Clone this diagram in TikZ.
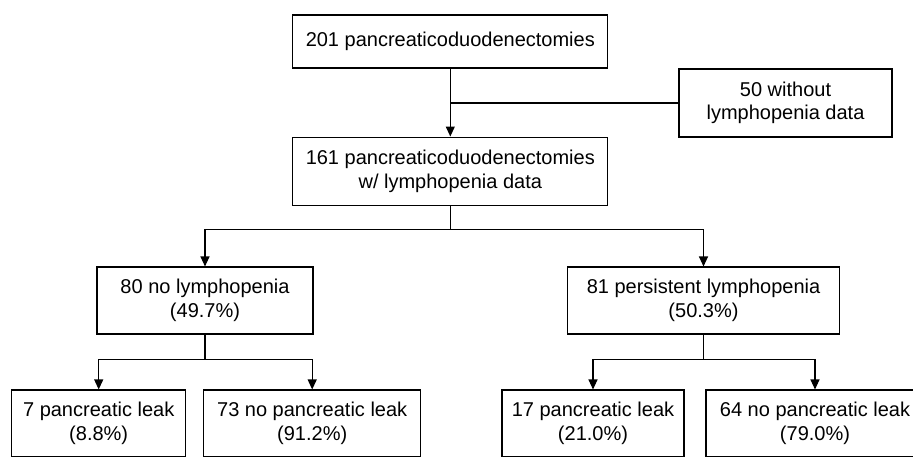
\documentclass[tikz,border=0pt]{standalone}
\usepackage{fontspec}
\setmainfont{Liberation Sans}
\usetikzlibrary{arrows.meta}
\begin{document}
\begin{tikzpicture}[x=1pt,y=-1pt,
  box/.style={draw, line width=1.1pt, inner sep=0pt, align=center,
    font=\fontsize{20}{23.5}\selectfont, minimum height=67pt},
  conn/.style={line width=1.1pt},
  arr/.style={conn,-{Triangle[length=10pt,width=9pt]}}]
\useasboundingbox (0,0) rectangle (913,456);
\clip (0,0) rectangle (913,456);
\node[box, minimum width=315pt, minimum height=53pt] (top) at (450.3,41.5) {201 pancreaticoduodenectomies};
\node[box, minimum width=315pt, minimum height=68.5pt] (n161) at (450.3,171.3) {161 pancreaticoduodenectomies\\w/ lymphopenia data};
\node[box, minimum width=213pt, minimum height=68pt] (n50) at (785.5,103) {50 without\\lymphopenia data};
\node[box, minimum width=216pt] (n80) at (205,300.5) {80 no lymphopenia\\(49.7\%)};
\node[box, minimum width=272pt] (n81) at (703.5,300.5) {81 persistent lymphopenia\\(50.3\%)};
\node[box, minimum width=174pt] (b1) at (98.7,423.5) {7 pancreatic leak\\(8.8\%)};
\node[box, minimum width=217pt] (b2) at (312.2,423.5) {73 no pancreatic leak\\(91.2\%)};
\node[box, minimum width=182pt] (b3) at (593,423.5) {17 pancreatic leak\\(21.0\%)};
\node[box, minimum width=218pt] (b4) at (815,423.5) {64 no pancreatic leak\\(79.0\%)};
\draw[arr] (top) -- (n161);
\draw[conn] (top.south |- n50.west) -- (n50.west);
\draw[arr] (n161.south) -- ++(0,23.3) -| (n80.north);
\draw[arr] (n161.south) -- ++(0,23.3) -| (n81.north);
\draw[arr] (n80.south) -- ++(0,25) -| (b1.north);
\draw[arr] (n80.south) -- ++(0,25) -| (b2.north);
\draw[arr] (n81.south) -- ++(0,25) -| (b3.north);
\draw[arr] (n81.south) -- ++(0,25) -| (b4.north);
\end{tikzpicture}
\end{document}
